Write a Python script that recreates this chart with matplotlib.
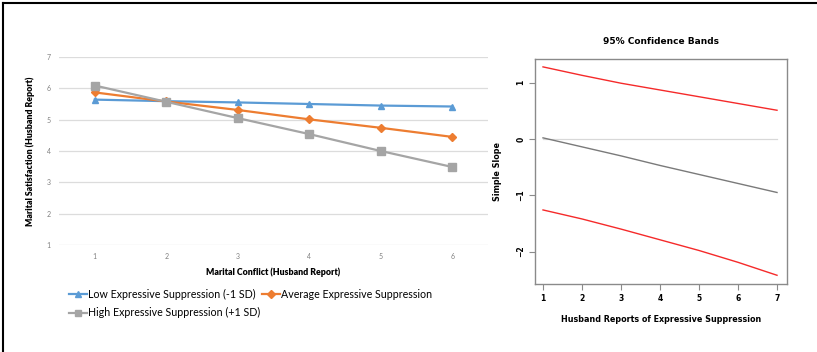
import matplotlib
matplotlib.use("Agg")
import matplotlib.pyplot as plt
from matplotlib.lines import Line2D

# ---- Left panel data ----
conflict = [1, 2, 3, 4, 5, 6]
low_supp = [5.64, 5.59, 5.55, 5.50, 5.45, 5.42]
avg_supp = [5.87, 5.58, 5.31, 5.01, 4.74, 4.45]
high_supp = [6.09, 5.57, 5.05, 4.54, 4.00, 3.49]
left_yticks = [1, 2, 3, 4, 5, 6, 7]
series_labels = ["Low Expressive Suppression (-1 SD)",
                 "Average Expressive Suppression",
                 "High Expressive Suppression (+1 SD)"]

# ---- Right panel data ----
supp_x = [1, 2, 3, 4, 5, 6, 7]
upper_band = [1.28, 1.13, 0.99, 0.87, 0.75, 0.63, 0.51]
slope = [0.02, -0.14, -0.30, -0.47, -0.63, -0.79, -0.95]
lower_band = [-1.26, -1.42, -1.60, -1.79, -1.98, -2.19, -2.42]
right_yticks = [-2, -1, 0, 1]

W, H = 817, 352
fig = plt.figure(figsize=(W / 100, H / 100), dpi=100)

def box(l, t, r, b):
    return [l / W, 1 - b / H, (r - l) / W, (b - t) / H]

# figure frame (left & top only, as cropped in reference)
fig.add_artist(Line2D([2.5 / W, 2.5 / W], [0, 1 - 2.5 / H], color="black", lw=1.5))
fig.add_artist(Line2D([2.5 / W, 1], [1 - 2.5 / H, 1 - 2.5 / H], color="black", lw=1.5))

# ---------------- Left panel ----------------
ff = ["Lato", "DejaVu Sans"]
ax = fig.add_axes(box(59, 57, 488, 245))
colors = ["#5b9bd5", "#ed7d31", "#a5a5a5"]
markers = ["^", "D", "s"]
msizes = [5, 4, 5.5]
handles = []
for ys, c, m, ms, lab in zip([low_supp, avg_supp, high_supp], colors, markers, msizes, series_labels):
    h, = ax.plot(conflict, ys, color=c, marker=m, markersize=ms, lw=1.6, label=lab, zorder=3)
    handles.append(h)
ax.set_xlim(0.5, 6.5)
ax.set_ylim(1, 7)
ax.set_yticks(left_yticks)
ax.set_xticks(conflict)
ax.grid(axis="y", color="#dcdcdc", lw=0.9)
ax.set_axisbelow(True)
for s in ax.spines.values():
    s.set_visible(False)
ax.tick_params(length=0, labelsize=5, labelcolor="#808080", pad=6)
for lbl in ax.get_xticklabels() + ax.get_yticklabels():
    lbl.set_family(ff)
ax.set_xlabel("Marital Conflict (Husband Report)", fontsize=6.3, fontweight="heavy",
              family=ff, labelpad=5)
ax.set_ylabel("Marital Satisfaction (Husband Report)", fontsize=6.3, fontweight="heavy",
              family=ff, labelpad=8)

leg_kw = dict(loc="upper left", frameon=False, prop={"family": ff, "size": 7.7},
              handlelength=1.7, handletextpad=0.12, labelspacing=0.72,
              borderaxespad=0, borderpad=0)
leg1 = fig.legend([handles[0], handles[2]], [series_labels[0], series_labels[2]],
                  bbox_to_anchor=(69 / W, 1 - 288.5 / H), **leg_kw)
leg2 = fig.legend([handles[1]], [series_labels[1]],
                  bbox_to_anchor=(262 / W, 1 - 288.5 / H), **leg_kw)
for lg in (leg1, leg2):
    for h in lg.legend_handles:
        h.set_markersize(4)

# ---------------- Right panel ----------------
ax2 = fig.add_axes(box(535, 59, 787, 284))
ax2.plot([supp_x[0], supp_x[-1]], [0, 0], color="#d8d8d8", lw=0.9, zorder=1)
ax2.plot(supp_x, upper_band, color="#f52a2a", lw=1.0, zorder=2)
ax2.plot(supp_x, lower_band, color="#f52a2a", lw=1.0, zorder=2)
ax2.plot(supp_x, slope, color="#7a7a7a", lw=1.0, zorder=2)
ax2.set_xlim(0.795, 7.256)
ax2.set_ylim(-2.575, 1.42)
ax2.set_xticks(supp_x)
ax2.set_yticks(right_yticks)
for s in ax2.spines.values():
    s.set_color("#8a8a8a")
    s.set_linewidth(1.0)
ax2.tick_params(direction="out", length=4, width=0.8, color="#8a8a8a",
                labelsize=5.5, pad=3)
for lbl in ax2.get_xticklabels() + ax2.get_yticklabels():
    lbl.set_fontweight("bold")
for lbl in ax2.get_yticklabels():
    lbl.set_rotation(90)
    lbl.set_va("center")
ax2.set_title("95% Confidence Bands", fontsize=6.5, fontweight="bold", pad=11)
ax2.set_xlabel("Husband Reports of Expressive Suppression", fontsize=5.8,
               fontweight="bold", labelpad=9)
ax2.set_ylabel("Simple Slope", fontsize=5.8, fontweight="bold", labelpad=10)

fig.savefig("out.png", dpi=100)
